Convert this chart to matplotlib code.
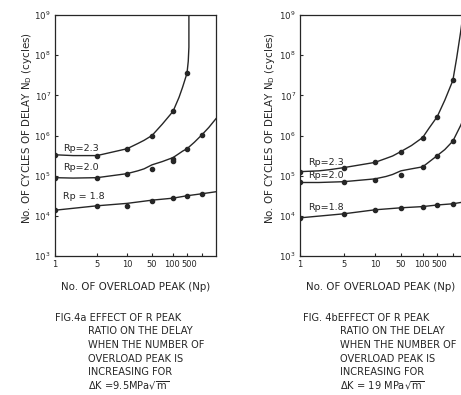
import numpy as np
import matplotlib
matplotlib.use("Agg")
import matplotlib.pyplot as plt
from matplotlib import font_manager
from matplotlib.ticker import FixedLocator, FixedFormatter, LogLocator, LogFormatterSciNotation, NullLocator
from matplotlib.transforms import ScaledTranslation

plt.rcParams["font.family"] = ["DejaVu Sans"]
plt.rcParams["mathtext.default"] = "regular"

# narrow face for the crowded tick numbers, if it is there
try:
    font_manager.findfont("Liberation Sans Narrow", fallback_to_default=False)
    TICK_FONT, TICK_SIZE = "Liberation Sans Narrow", 7.5
except ValueError:
    TICK_FONT, TICK_SIZE = "DejaVu Sans", 6.0

INK = "#262626"

# the Np axis of the original is hand drawn, not logarithmic:
# grid of Np values and their spacing along the axis
NP_GRID = [1, 5, 10, 50, 100, 500, 1000, 2000]
NP_SPACING = [0, 42, 72, 97, 118, 132, 147, 161]
NP_TICKS = [1, 5, 10, 50, 100, 500, 1000]
NP_TICKLABELS = ["1", "5", "10", "50", "100", "500", ""]

# ---- fig 4a, dK = 9.5 MPa sqrt(m), log10(N_D) ----
a23_np = [1, 5, 10, 50, 100, 500]
a23_pts = [5.52, 5.50, 5.67, 6.00, 6.60, 7.55]
a23_curve_np = [1, 2, 5, 10, 20, 30, 50, 70, 100, 200, 300, 500, 530, 546, 546]
a23_curve = [5.52, 5.50, 5.50, 5.67, 5.80, 5.88, 6.00, 6.28, 6.60, 6.95, 7.20, 7.55, 7.85, 8.20, 9.00]

a20_np = [1, 5, 10, 50, 100, 100, 500, 1000]
a20_pts = [4.95, 4.93, 5.05, 5.17, 5.42, 5.37, 5.67, 6.02]
a20_curve_np = [1, 2, 5, 10, 20, 30, 50, 70, 100, 200, 300, 500, 700, 1000, 1400, 2000]
a20_curve = [4.95, 4.94, 4.95, 5.05, 5.12, 5.17, 5.27, 5.35, 5.45, 5.55, 5.61, 5.67, 5.83, 6.02, 6.20, 6.42]

a18_np = [1, 5, 10, 50, 100, 500, 1000]
a18_pts = [4.14, 4.24, 4.24, 4.375, 4.44, 4.50, 4.55]
a18_curve_np = [1, 5, 10, 50, 100, 500, 1000, 2000]
a18_curve = [4.14, 4.25, 4.31, 4.39, 4.44, 4.50, 4.55, 4.60]

# ---- fig 4b, dK = 19 MPa sqrt(m), log10(N_D) ----
b23_np = [1, 5, 10, 50, 100, 500, 1000]
b23_pts = [5.10, 5.20, 5.33, 5.60, 5.95, 6.47, 7.37]
b23_curve_np = [1, 2, 3, 5, 10, 20, 30, 50, 70, 100, 200, 500, 700, 1000, 1200, 1450, 1700]
b23_curve = [5.10, 5.12, 5.15, 5.20, 5.33, 5.43, 5.49, 5.60, 5.75, 5.95, 6.18, 6.47, 6.88, 7.37, 7.93, 8.58, 9.20]

b20_np = [1, 5, 10, 50, 100, 500, 1000]
b20_pts = [4.83, 4.85, 4.89, 5.02, 5.22, 5.50, 5.86]
b20_curve_np = [1, 2, 5, 10, 20, 30, 50, 70, 100, 200, 500, 700, 1000, 1450, 2000]
b20_curve = [4.83, 4.83, 4.85, 4.92, 4.98, 5.03, 5.12, 5.17, 5.22, 5.34, 5.50, 5.65, 5.86, 6.25, 6.65]

b18_np = [1, 5, 10, 50, 100, 500, 1000]
b18_pts = [3.95, 4.05, 4.15, 4.20, 4.23, 4.27, 4.30]
b18_curve_np = [1, 5, 10, 50, 100, 500, 1000, 2000]
b18_curve = [3.95, 4.05, 4.15, 4.20, 4.23, 4.27, 4.30, 4.36]

YLABEL = "No. OF CYCLES OF DELAY N$_D$ (cycles)"
XLABEL = "No. OF OVERLOAD PEAK (Np)"

caption_a = ["FIG.4a EFFECT OF R PEAK", "RATIO ON THE DELAY", "WHEN THE NUMBER OF",
             "OVERLOAD PEAK IS", "INCREASING FOR", r"$\Delta$K =9.5MPa$\sqrt{m}$"]
caption_b = ["FIG. 4bEFFECT OF R PEAK", "RATIO ON THE DELAY", "WHEN THE NUMBER OF",
             "OVERLOAD PEAK IS", "INCREASING FOR", r"$\Delta$K = 19 MPa$\sqrt{m}$"]


def np_fwd(x):
    x = np.clip(np.asarray(x, dtype=float), 1e-3, None)
    return np.interp(np.log10(x), np.log10(NP_GRID), NP_SPACING)


def np_inv(p):
    return 10 ** np.interp(np.asarray(p, dtype=float), NP_SPACING, np.log10(NP_GRID))


W, H = 461, 395
fig = plt.figure(figsize=(W / 100, H / 100), dpi=100)
ax_a = fig.add_axes([55 / W, 1 - 256 / H, 161 / W, 241 / H])
ax_b = fig.add_axes([300 / W, 1 - 256 / H, 167.4 / W, 241 / H])

panels = [
    (ax_a, [(a23_np, a23_pts, a23_curve_np, a23_curve),
            (a20_np, a20_pts, a20_curve_np, a20_curve),
            (a18_np, a18_pts, a18_curve_np, a18_curve)],
     ["Rp=2.3", "Rp=2.0", "Rp = 1.8"], [0.448, 0.369, 0.245]),
    (ax_b, [(b23_np, b23_pts, b23_curve_np, b23_curve),
            (b20_np, b20_pts, b20_curve_np, b20_curve),
            (b18_np, b18_pts, b18_curve_np, b18_curve)],
     ["Rp=2.3", "Rp=2.0", "Rp=1.8"], [0.39, 0.332, 0.203]),
]

for ax, series, labels, label_y in panels:
    for xs, ys, cx, cy in series:
        ax.plot(cx, 10 ** np.array(cy), color=INK, lw=1.0)
        ax.plot(xs, 10 ** np.array(ys), ls="none", marker="o", ms=3, color=INK)
    for lab, yy in zip(labels, label_y):
        ax.text(0.05, yy, lab, transform=ax.transAxes, fontsize=6.8, color=INK,
                ha="left", va="center")

    ax.set_xscale("function", functions=(np_fwd, np_inv))
    ax.set_yscale("log")
    ax.set_xlim(1, 2000)
    ax.set_ylim(1e3, 1e9)
    ax.xaxis.set_major_locator(FixedLocator(NP_TICKS))
    ax.xaxis.set_major_formatter(FixedFormatter(NP_TICKLABELS))
    ax.xaxis.set_minor_locator(NullLocator())
    ax.yaxis.set_major_locator(LogLocator(base=10, numticks=10))
    ax.yaxis.set_major_formatter(LogFormatterSciNotation())
    ax.yaxis.set_minor_locator(NullLocator())
    ax.tick_params(direction="in", length=2.5, width=0.8, colors=INK)
    ax.tick_params(axis="y", pad=3, labelsize=6.2)
    ax.tick_params(axis="x", pad=3, labelsize=TICK_SIZE)
    for s in ax.spines.values():
        s.set_color(INK)
        s.set_linewidth(0.9)
    fig.canvas.draw()
    for lab in ax.get_xticklabels():
        lab.set_family(TICK_FONT)
        # "100" and "500" sit almost on each other in the original
        if lab.get_text() == "500":
            lab.set_transform(lab.get_transform() + ScaledTranslation(2 / 100, 0, fig.dpi_scale_trans))
        if lab.get_text() == "100":
            lab.set_transform(lab.get_transform() + ScaledTranslation(-1 / 100, 0, fig.dpi_scale_trans))

# axis titles and captions
for x_ylab, x_xlab in [(27, 135.5), (270, 381)]:
    fig.text(x_ylab / W, 1 - 128 / H, YLABEL, rotation=90, ha="center", va="center",
             fontsize=7.4, color=INK)
    fig.text(x_xlab / W, 1 - 287 / H, XLABEL, ha="center", va="center",
             fontsize=7.4, color=INK)

line_y = [318, 331, 345, 359, 372, 386]
for lines, x0, x1 in [(caption_a, 55, 88), (caption_b, 303, 340)]:
    for i, (txt, yy) in enumerate(zip(lines, line_y)):
        fig.text((x0 if i == 0 else x1) / W, 1 - yy / H, txt, ha="left", va="center",
                 fontsize=7.1, color=INK)

fig.savefig("out.png", dpi=100)
